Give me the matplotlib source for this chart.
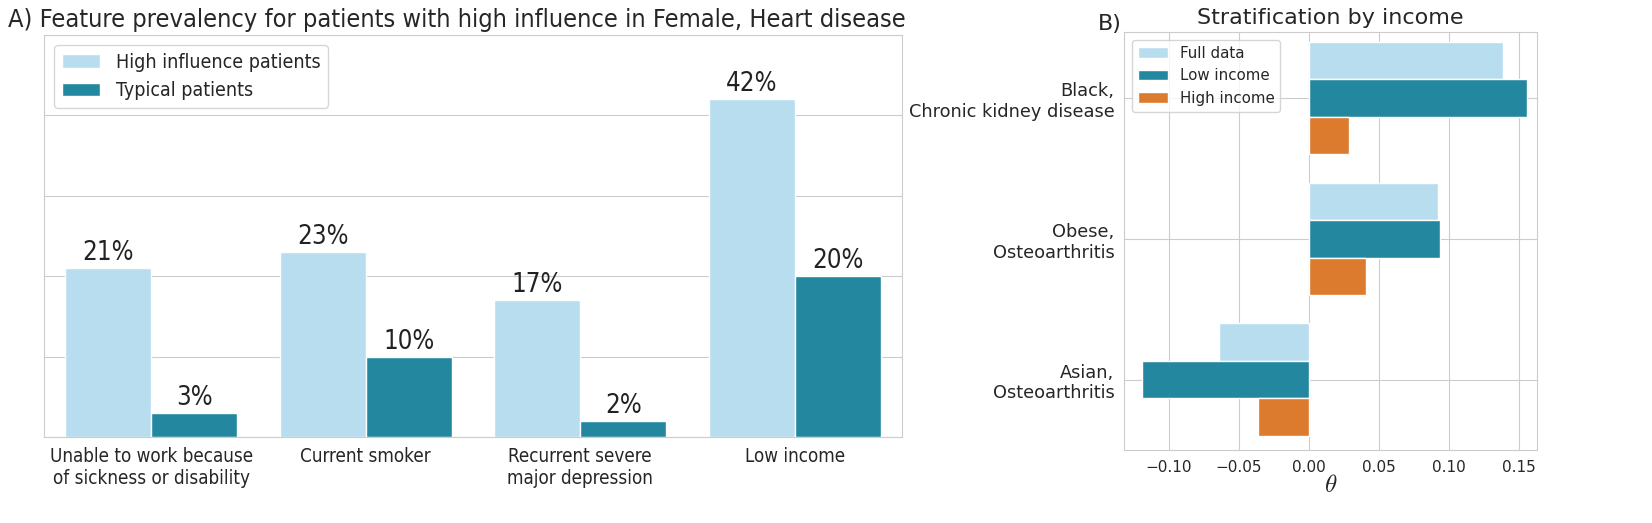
import matplotlib
matplotlib.use("Agg")
import matplotlib.pyplot as plt
import numpy as np
import seaborn as sns

sns.set_style("whitegrid")
plt.rcParams['font.family'] = ['DejaVu Sans']
plt.rcParams['mathtext.fontset'] = 'cm'

# ---- data ----
features = ["Unable to work because\nof sickness or disability", "Current smoker",
            "Recurrent severe\nmajor depression", "Low income"]
high_influence = [21, 23, 17, 42]
typical = [3, 10, 2, 20]

groups = ["Black,\nChronic kidney disease", "Obese,\nOsteoarthritis", "Asian,\nOsteoarthritis"]
full_data = [0.139, 0.092, -0.064]
low_income = [0.156, 0.094, -0.119]
high_income = [0.029, 0.041, -0.036]
xticks_b = [-0.10, -0.05, 0.00, 0.05, 0.10, 0.15]

LIGHT = "#b8ddef"
TEAL = "#23889f"
ORANGE = "#dc7a2d"

W, H = 1652, 523
fig = plt.figure(figsize=(W / 100, H / 100), dpi=100)

def ax_rect(l, r, t, b):
    return [l / W, (H - b) / H, (r - l) / W, (b - t) / H]

cond = dict(fontstretch='condensed')

# ---- panel A ----
ax1 = fig.add_axes(ax_rect(44, 902, 35, 437))
x = np.arange(len(features))
bw = 0.4
b1 = ax1.bar(x - bw / 2, high_influence, bw, color=LIGHT, edgecolor='white', label="High influence patients", zorder=2)
b2 = ax1.bar(x + bw / 2, typical, bw, color=TEAL, edgecolor='white', label="Typical patients", zorder=2)
for bars, vals in ((b1, high_influence), (b2, typical)):
    for rect, v in zip(bars, vals):
        ax1.annotate(f"{v}%", (rect.get_x() + rect.get_width() / 2, rect.get_height()),
                     xytext=(0, 1.5), textcoords='offset points', ha='center', va='bottom',
                     fontsize=18.5, color='#222222', **cond)
ax1.set_xlim(-0.5, 3.5)
ax1.set_ylim(0, 50)
ax1.set_yticks([0, 10, 20, 30, 40, 50])
ax1.set_yticklabels([])
ax1.tick_params(axis='y', length=0)
ax1.set_xticks(x)
ax1.set_xticklabels(features, fontsize=13.5, color='#262626', **cond)
ax1.grid(axis='x', visible=False)
ax1.set_axisbelow(True)
ax1.legend(loc='upper left', frameon=True, handlelength=2.0,
           prop=dict(size=14, stretch='condensed'))
ax1.set_title("A) Feature prevalency for patients with high influence in Female, Heart disease",
              fontsize=18.2, loc='left', x=-0.042, color='#262626', pad=6, **cond)
for s in ax1.spines.values():
    s.set_color('#cccccc')

# ---- panel B ----
ax2 = fig.add_axes(ax_rect(1124, 1537, 32, 450))
y = np.arange(len(groups))
bh = 0.8 / 3
ax2.barh(y - bh, full_data, bh, color=LIGHT, edgecolor='white', label="Full data", zorder=2)
ax2.barh(y, low_income, bh, color=TEAL, edgecolor='white', label="Low income", zorder=2)
ax2.barh(y + bh, high_income, bh, color=ORANGE, edgecolor='white', label="High income", zorder=2)
ax2.set_ylim(2.5, -0.47)
ax2.set_xlim(-0.132, 0.163)
ax2.set_yticks(y)
ax2.set_yticklabels(groups, fontsize=12.8, color='#262626')
ax2.set_xticks(xticks_b)
ax2.set_xticklabels([f"{v:.2f}".replace('-', '\u2212') for v in xticks_b], fontsize=11, color='#262626')
ax2.set_xlabel(r"$\theta$", fontsize=18, labelpad=-1)
ax2.set_axisbelow(True)
ax2.legend(loc='upper left', fontsize=10.8, frameon=True, handlelength=2.0)
ax2.set_title("Stratification by income", fontsize=16, color='#262626', pad=6)
fig.text(1098 / W, 1 - 24 / H, "B)", fontsize=16, color='#262626', ha='left', va='center')
for s in ax2.spines.values():
    s.set_color('#cccccc')

fig.savefig("out.png", dpi=100)
